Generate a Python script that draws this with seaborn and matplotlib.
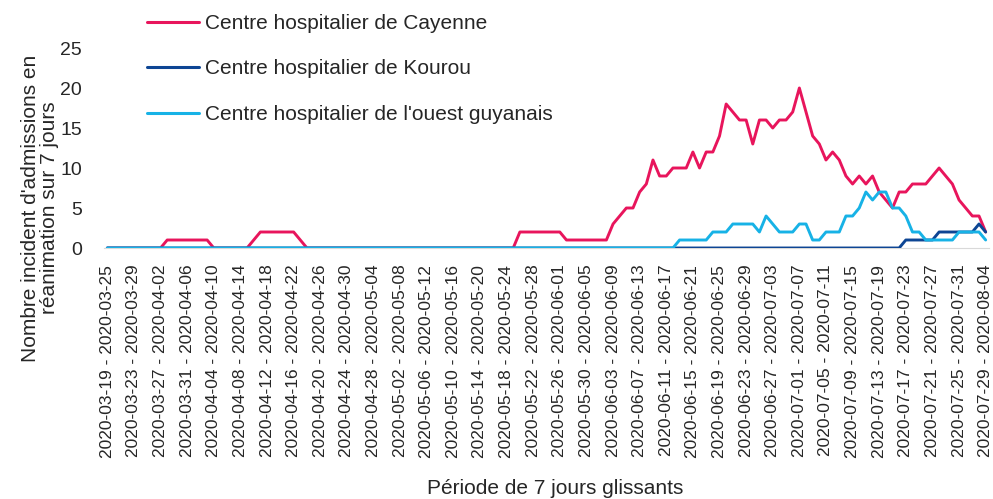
import pandas as pd
import matplotlib
matplotlib.use("Agg")
import matplotlib.pyplot as plt
import seaborn as sns

# Rolling 7-day periods (start dates), one per day
period_start = pd.date_range("2020-03-19", "2020-07-29", freq="D")
periods = [f"{d:%Y-%m-%d} - {d + pd.Timedelta(days=6):%Y-%m-%d}" for d in period_start]

# Admissions in ICU over 7 days
cayenne = ([0] * 9 + [1] * 7 + [0] * 6 + [1] + [2] * 6 + [1] + [0] * 32 + [2] * 7 + [1] * 7
           + [3, 4, 5, 5, 7, 8, 11, 9, 9, 10,
              10, 10, 12, 10, 12, 12, 14, 18, 17, 16,
              16, 13, 16, 16, 15, 16, 16, 17, 20, 17,
              14, 13, 11, 12, 11, 9, 8, 9, 8, 9,
              7, 6, 5, 7, 7, 8, 8, 8, 9, 10,
              9, 8, 6, 5, 4, 4, 2])
kourou = [0] * 120 + [1] * 5 + [2] * 6 + [3, 2]
ouest = ([0] * 86 + [1] * 5 + [2] * 3 + [3] * 4
         + [2, 4, 3, 2, 2, 2, 3, 3, 1, 1,
            2, 2, 2, 4, 4, 5, 7, 6, 7, 7,
            5, 5, 4, 2, 2, 1, 1, 1, 1, 1,
            2, 2, 2, 2, 1])

names = ["Centre hospitalier de Cayenne", "Centre hospitalier de Kourou",
         "Centre hospitalier de l'ouest guyanais"]
colors = ["#E8155C", "#0D4594", "#17B2E6"]

df = pd.DataFrame({
    "jour": list(range(len(periods))) * 3,
    "valeur": cayenne + kourou + ouest,
    "site": [names[0]] * len(periods) + [names[1]] * len(periods) + [names[2]] * len(periods),
})

sns.set_style("white")
plt.rcParams["font.family"] = ["Liberation Sans", "DejaVu Sans"]

fig = plt.figure(figsize=(9.93, 4.99), dpi=100)
ax = fig.add_axes([104 / 993, 1 - 248 / 499, (989 - 104) / 993, 200 / 499])

sns.lineplot(data=df, x="jour", y="valeur", hue="site", hue_order=names,
             palette=colors, linewidth=2.1, ax=ax, legend=False)

ax.set_xlim(-0.5, len(periods) - 0.5)
ax.set_ylim(0, 25)
ax.set_yticks([0, 5, 10, 15, 20, 25])
ax.set_xticks(range(0, len(periods), 4))
ax.set_xticklabels(periods[::4], rotation=90, fontsize=12.5, color="#262626")
ax.tick_params(axis="y", labelsize=14, colors="#262626", length=0, pad=16)
ax.tick_params(axis="x", length=0, pad=12)
ax.set_xlabel("")
ax.set_ylabel("")
for s in ["top", "right", "left"]:
    ax.spines[s].set_visible(False)
ax.spines["bottom"].set_color("#D9D9D9")
ax.spines["bottom"].set_zorder(0)

handles = [plt.Line2D([], [], color=c, linewidth=2.2) for c in colors]
fig.legend(handles, names, loc="upper left", bbox_to_anchor=(147 / 993, 1 - 14 / 499),
           frameon=False, fontsize=15, handlelength=2.5, handletextpad=0.3,
           labelspacing=1.27, borderpad=0, borderaxespad=0, labelcolor="#262626")

fig.text(40 / 993, 1 - 208 / 499, "Nombre incident d'admissions en\nréanimation sur 7 jours",
         rotation=90, ha="center", va="center", fontsize=15, color="#262626",
         multialignment="center", linespacing=1.0)
fig.text(555 / 993, 1 - 489 / 499, "Période de 7 jours glissants",
         ha="center", va="center", fontsize=15, color="#262626")

fig.savefig("out.png", dpi=100)
